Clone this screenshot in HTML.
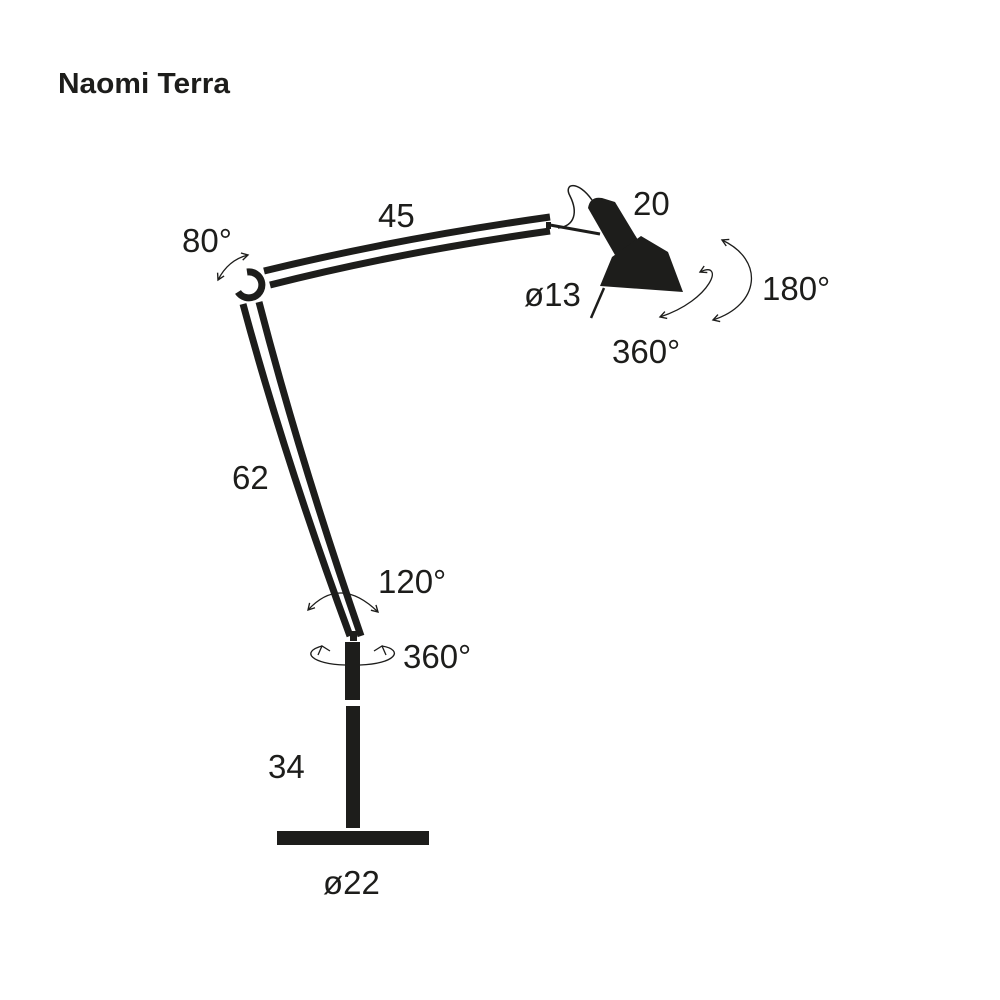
<!DOCTYPE html>
<html><head><style>
html,body{margin:0;padding:0;background:#fff;}
svg{display:block;}
text{font-family:"Liberation Sans",sans-serif;fill:#1d1d1b;}
</style></head><body>
<svg width="1000" height="1000" viewBox="0 0 1000 1000">
<defs>
<marker id="ah" viewBox="0 0 10 10" refX="8" refY="5" markerWidth="7" markerHeight="7" orient="auto-start-reverse">
<path d="M1,1 L8,5 L1,9" fill="none" stroke="#1d1d1b" stroke-width="1.5"/>
</marker>
</defs>
<text x="58" y="93" font-size="29" font-weight="bold" textLength="172" lengthAdjust="spacingAndGlyphs">Naomi Terra</text>

<g stroke="#1d1d1b" stroke-width="7" fill="none" stroke-linecap="butt">
<path d="M243,304 Q285,460 350,636"/>
<path d="M259,302 Q300,460 361,636"/>
<path d="M264,271 Q400,238 550,217"/>
<path d="M270,285 Q400,252 550,231"/>
<path d="M238,292 A13,13 0 1 0 247,272"/>
</g>
<rect x="546" y="222" width="5" height="7" fill="#1d1d1b"/>
<line x1="550" y1="225" x2="600" y2="234" stroke="#1d1d1b" stroke-width="3"/>
<path d="M558,228 C575,226 578,212 570,196 C563,183 578,180 592,200" fill="none" stroke="#1d1d1b" stroke-width="1.5"/>
<path d="M588,208 Q590,196 602,198 L615,202 L638,240 L615,255 Z" fill="#1d1d1b"/>
<path d="M612,257 L641,236 L668,252 L683,292 L600,286 Z" fill="#1d1d1b"/>
<line x1="604" y1="288" x2="591" y2="318" stroke="#1d1d1b" stroke-width="2.5"/>

<rect x="350" y="631" width="7" height="10" fill="#1d1d1b"/>
<rect x="345" y="642" width="15" height="58" fill="#1d1d1b"/>
<rect x="346" y="706" width="14" height="122" fill="#1d1d1b"/>
<rect x="277" y="831" width="152" height="14" fill="#1d1d1b"/>

<g stroke="#1d1d1b" stroke-width="1.3" fill="none">
<path d="M218,280 Q228,260 248,255" marker-start="url(#ah)" marker-end="url(#ah)"/>
<path d="M308,610 Q340,575 378,612" marker-start="url(#ah)" marker-end="url(#ah)"/>
<path d="M322,646 C300,652 312,664 345,665 M360,665 C395,664 405,650 382,646" />
<path d="M700,272 C725,260 712,300 660,317" marker-start="url(#ah)" marker-end="url(#ah)"/>
<path d="M722,240 C765,260 760,305 713,320" marker-start="url(#ah)" marker-end="url(#ah)"/>
</g>
<path d="M318,655 L322,646 L330,651" fill="none" stroke="#1d1d1b" stroke-width="1.3"/>
<path d="M374,651 L382,646 L386,655" fill="none" stroke="#1d1d1b" stroke-width="1.3"/>

<g font-size="33">
<text x="182" y="252">80°</text>
<text x="378" y="227">45</text>
<text x="633" y="215">20</text>
<text x="524" y="306">ø13</text>
<text x="762" y="300">180°</text>
<text x="612" y="363">360°</text>
<text x="232" y="489">62</text>
<text x="378" y="593">120°</text>
<text x="403" y="668">360°</text>
<text x="268" y="778">34</text>
<text x="323" y="894">ø22</text>
</g>
</svg>
</body></html>
